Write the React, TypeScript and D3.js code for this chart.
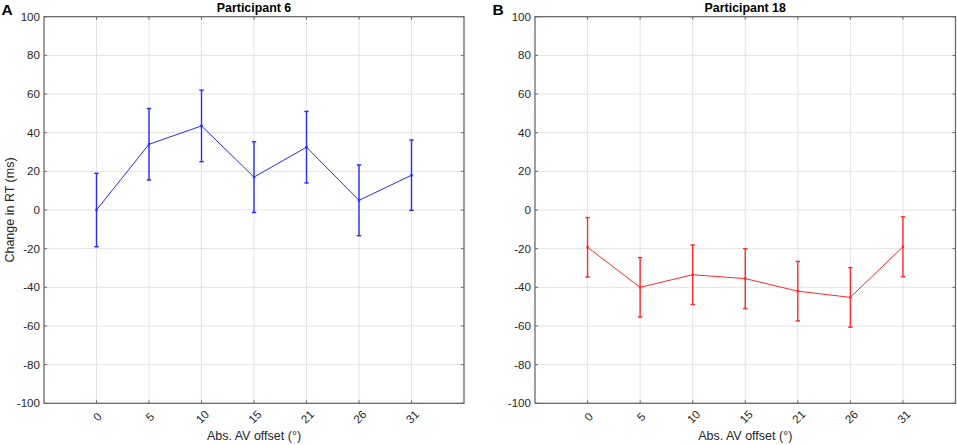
import React from 'react';
import * as d3 from 'd3';

const offsets = ['0', '5', '10', '15', '21', '26', '31'];
const yTicks = [-100, -80, -60, -40, -20, 0, 20, 40, 60, 80, 100];

const p6Mean = [0, 34, 43.5, 17, 32.5, 5, 18];
const p6Err = [19, 18.5, 18.5, 18.3, 18.5, 18.3, 18.2];

const p18Mean = [-19.3, -40, -33.5, -35.5, -42, -45.2, -19];
const p18Err = [15.4, 15.4, 15.4, 15.5, 15.4, 15.4, 15.5];

const W = 957;
const H = 445;
const TOP = 16.7;
const BOTTOM = 403.3;
const FONT = 'Liberation Sans, Arial, Helvetica, sans-serif';
const AXIS = '#6a6a6a';

interface PanelProps {
  left: number;
  right: number;
  title: string;
  letter: string;
  mean: number[];
  err: number[];
  color: string;
  showYLabel: boolean;
}

const Panel: React.FC<PanelProps> = ({ left, right, title, letter, mean, err, color, showYLabel }) => {
  const x = d3.scaleLinear().domain([0, offsets.length + 1]).range([left, right]);
  const y = d3.scaleLinear().domain([-100, 100]).range([BOTTOM, TOP]);
  const pts = mean.map((m, i) => ({ cx: x(i + 1), m, e: err[i] }));
  const line = d3.line<{ cx: number; m: number }>().x(d => d.cx).y(d => y(d.m));
  const cx = (left + right) / 2;

  return (
    <g>
      {/* grid */}
      {yTicks.map(t => (
        <line key={'gy' + t} x1={left} x2={right} y1={y(t)} y2={y(t)} stroke="#e3e3e3" strokeWidth={1} />
      ))}
      {offsets.map((o, i) => (
        <line key={'gx' + o} x1={x(i + 1)} x2={x(i + 1)} y1={TOP} y2={BOTTOM} stroke="#e3e3e3" strokeWidth={1} />
      ))}

      {/* box */}
      <rect x={left} y={TOP} width={right - left} height={BOTTOM - TOP} fill="none" stroke={AXIS} strokeWidth={1.3} />

      {/* inward ticks */}
      {yTicks.map(t => (
        <g key={'ty' + t}>
          <line x1={left} x2={left + 3} y1={y(t)} y2={y(t)} stroke={AXIS} />
          <line x1={right - 3} x2={right} y1={y(t)} y2={y(t)} stroke={AXIS} />
          <text x={left - 4} y={y(t)} dy="0.35em" textAnchor="end" fontSize={11.6} fill="#262626" fontFamily={FONT}>
            {t}
          </text>
        </g>
      ))}
      {offsets.map((o, i) => (
        <g key={'tx' + o}>
          <line x1={x(i + 1)} x2={x(i + 1)} y1={BOTTOM} y2={BOTTOM - 3} stroke={AXIS} />
          <line x1={x(i + 1)} x2={x(i + 1)} y1={TOP} y2={TOP + 3} stroke={AXIS} />
          <text
            transform={`translate(${x(i + 1) + 1},${BOTTOM + 13.5}) rotate(-45)`}
            dy="0.35em"
            textAnchor="middle"
            fontSize={11.6}
            fill="#262626"
            fontFamily={FONT}
          >
            {o}
          </text>
        </g>
      ))}

      {/* error bars */}
      {pts.map((p, i) => (
        <g key={'eb' + i} stroke={color} strokeWidth={1.4}>
          <line x1={p.cx} x2={p.cx} y1={y(p.m - p.e)} y2={y(p.m + p.e)} />
          <line x1={p.cx - 2.2} x2={p.cx + 2.2} y1={y(p.m - p.e)} y2={y(p.m - p.e)} />
          <line x1={p.cx - 2.2} x2={p.cx + 2.2} y1={y(p.m + p.e)} y2={y(p.m + p.e)} />
        </g>
      ))}
      <path d={line(pts) || ''} fill="none" stroke={color} strokeWidth={1} />
      {pts.map((p, i) => (
        <rect key={'mk' + i} x={p.cx - 1.2} y={y(p.m) - 1.2} width={2.4} height={2.4} fill={color} />
      ))}

      {/* labels */}
      <text x={cx} y={12} textAnchor="middle" fontSize={12.4} fontWeight="bold" fill="#000" fontFamily={FONT}>
        {title}
      </text>
      <text x={cx} y={439.5} textAnchor="middle" fontSize={12.5} fill="#262626" fontFamily={FONT}>
        Abs. AV offset (°)
      </text>
      {showYLabel && (
        <text
          transform={`translate(13.5,${(TOP + BOTTOM) / 2}) rotate(-90)`}
          textAnchor="middle"
          fontSize={12.5}
          fill="#262626"
          fontFamily={FONT}
        >
          Change in RT (ms)
        </text>
      )}
      <text x={left - 42.5} y={14.5} fontSize={15.5} fontWeight="bold" fill="#000" fontFamily={FONT}>
        {letter}
      </text>
    </g>
  );
};

export default function App() {
  return (
    <svg
      width={W}
      height={H}
      viewBox={`0 0 ${W} ${H}`}
      style={{ position: 'absolute', left: 0, top: 0, background: '#fff' }}
    >
      <rect width={W} height={H} fill="#fff" />
      <Panel left={44} right={464} title="Participant 6" letter="A" mean={p6Mean} err={p6Err} color="#2a2aff" showYLabel />
      <Panel left={535} right={955.5} title="Participant 18" letter="B" mean={p18Mean} err={p18Err} color="#ff2a2a" showYLabel={false} />
    </svg>
  );
}
